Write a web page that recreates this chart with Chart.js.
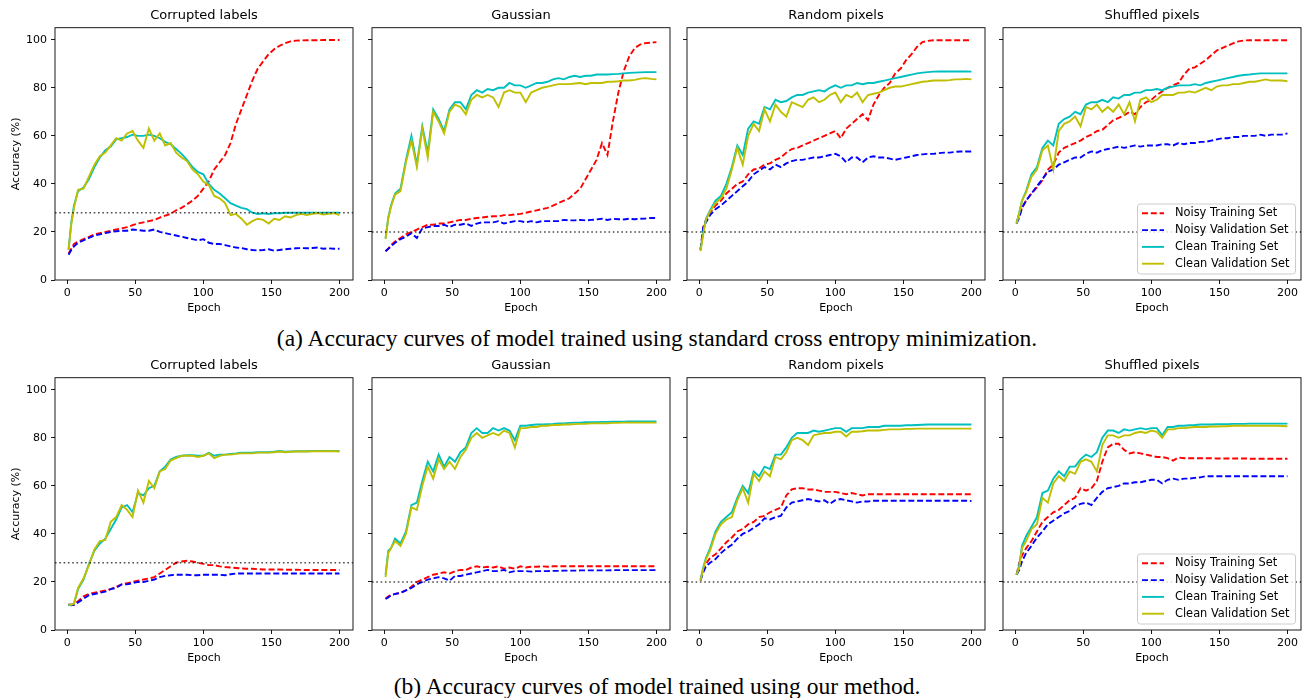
<!DOCTYPE html>
<html>
<head>
<meta charset="utf-8">
<script src="https://cdn.jsdelivr.net/npm/chart.js@4.4.1/dist/chart.umd.min.js"></script>
<style>
  html, body { margin: 0; padding: 0; background: #fff; overflow: hidden; }
  #page { position: relative; width: 1302px; height: 698px; overflow: hidden; background: #fff; }
  #page canvas { position: absolute; }
  .cap { position: absolute; left: 6px; width: 1302px; text-align: center; font-family: 'Liberation Serif', 'DejaVu Serif', serif; font-size: 23.5px; line-height: 28px; color: #000; white-space: nowrap; }
</style>
</head>
<body>
<div id="page">
  <div class="cap" style="top:324px">(a) Accuracy curves of model trained using standard cross entropy minimization.</div>
  <div class="cap" style="top:672px">(b) Accuracy curves of model trained using our method.</div>
</div>
<script>
const epochs = [1, 3, 5, 8, 12, 16, 20, 24, 28, 32, 36, 40, 44, 48, 52, 56, 60, 64, 68, 72, 76, 80, 84, 88, 92, 96,
  100, 104, 108, 112, 116, 120, 124, 128, 132, 136, 140, 144, 148, 152, 156, 160, 164, 168, 172, 176, 180, 184, 188, 192, 196, 200];
const xTicks = [0, 50, 100, 150, 200];
const yTicks = [0, 20, 40, 60, 80, 100];
const xMin = -8.95, xMax = 209.95, yMin = 0, yMax = 105;
const panelTitles = ['Corrupted labels', 'Gaussian', 'Random pixels', 'Shuffled pixels'];
const chanceLevels = [28, 20, 20, 20];
const seriesNames = ['Noisy Training Set', 'Noisy Validation Set', 'Clean Training Set', 'Clean Validation Set'];

// (a) standard cross entropy
const ceCorruptNoisyTrain = [11, 13, 15, 16, 17, 18, 19, 19.5, 20, 20.5, 21, 21.5, 22, 22.8, 23.5, 24, 24.5, 25, 26, 26.8,
  27.5, 29, 30, 31.5, 33, 35, 38, 41, 46, 49, 52, 57, 65, 71, 77, 83, 88, 91, 94, 96, 97.5, 98.5, 99.3, 99.6,
  99.7, 99.8, 99.8, 99.8, 99.9, 99.9, 99.9, 99.9];
const ceCorruptNoisyVal = [10.5, 12.5, 14, 15.5, 16.5, 17.5, 18.5, 19, 19.5, 20, 20.3, 20.5, 20.5, 21, 20.8, 20.5, 20.5, 21, 20, 19.5,
  19, 18.5, 18, 17.5, 17, 16.5, 17, 15.5, 15, 15, 14.5, 14, 13.5, 13.3, 12.8, 12.5, 12.3, 12.5, 12.8, 12.2, 12.5, 12.8, 13, 13.2,
  13.3, 13.2, 13.3, 13.5, 13, 13.2, 13, 13];
const ceCorruptCleanTrain = [12.5, 24, 31, 37, 38.5, 42, 47, 51, 54, 55.5, 58.5, 59, 59.5, 60.5, 60, 60, 60.5, 60, 59, 57.5,
  56.5, 54.5, 52.5, 50, 47, 45, 44, 40, 37.5, 36, 34, 32, 31, 30, 29.5, 28, 27.5, 27.8, 27.5, 27.8, 27.8, 28, 28, 28,
  28, 28, 28, 28, 28, 28, 28, 28];
const ceCorruptCleanVal = [12.5, 23, 30, 37.5, 38, 43, 48, 51.5, 53, 56, 59, 58, 61, 62, 58, 55, 63, 58, 61, 56,
  57, 53, 51, 49.5, 46, 44, 41, 39.5, 35, 34, 32, 27, 27.5, 25.5, 23, 24.5, 25.5, 25, 23.5, 25.5, 25, 26.5, 26, 27,
  27.5, 27, 27.5, 27.8, 27.2, 27.5, 27.8, 27];

const ceGaussNoisyTrain = [12, 13, 14.5, 16, 17.5, 19, 20, 21, 22, 23, 23, 23.5, 23.5, 24, 24.5, 25, 25, 25.5, 25.8, 26,
  26.3, 26.5, 26.5, 27, 27, 27.3, 27.5, 28, 28.5, 29, 29.5, 30, 31, 32, 33, 34, 36, 38, 42, 46, 50, 57, 52, 66,
  78, 87, 93, 96.5, 98, 98.6, 98.8, 99];
const ceGaussNoisyVal = [12, 13, 14, 15.5, 17, 18, 19.5, 17.5, 21.5, 22, 22.5, 22.5, 23, 22, 23, 23, 23.5, 22.5, 23.5, 24,
  24, 24, 24.5, 23.5, 24, 24.5, 24.5, 24, 24.5, 24, 24.5, 24.5, 24.5, 24.5, 25, 24.8, 24.8, 25, 24.8, 25, 25.2, 25.5, 25, 25.5,
  25.3, 25.2, 25.5, 25.3, 25.5, 25.6, 25.8, 25.8];
const ceGaussCleanTrain = [17.3, 26, 31, 36, 38, 50, 60, 48, 64, 53, 71, 67, 62, 71, 74, 74, 71, 77, 79, 78,
  79.5, 79, 80, 80, 82, 81, 81, 80, 81, 82, 82, 82.5, 83.5, 84, 83.5, 84.5, 85, 84.5, 85, 85, 85.5, 85.5, 85.5, 85.7,
  85.8, 86, 86.2, 86.3, 86.4, 86.5, 86.5, 86.5];
const ceGaussCleanVal = [17, 25.5, 30.5, 35.5, 37, 49, 58, 47, 63, 51, 70, 66, 61, 70, 73, 72, 69, 75, 77, 76,
  77, 76, 72, 78, 79, 78, 78, 74, 78, 79, 80, 80.5, 81, 81.5, 81.5, 81.5, 81.8, 82, 81.5, 82, 82, 82, 82.5, 82.5,
  82.7, 83, 83, 83.3, 83.8, 84, 83.7, 83.5];

const ceRandNoisyTrain = [13, 22, 25, 28, 31, 33, 36, 38, 40, 41, 44, 46, 46.5, 48, 48.5, 50, 51, 53, 54.5, 55,
  56, 57, 58, 59, 60, 61, 62, 59, 63, 65, 67, 69, 66.5, 73, 77, 80, 82, 86, 88, 91.5, 94, 97, 99, 99.5,
  99.8, 99.8, 99.8, 99.8, 99.8, 99.8, 99.8, 99.8];
const ceRandNoisyVal = [12.5, 22, 24, 27, 29.5, 31, 33, 35, 37, 39, 41, 44, 45.5, 47, 46, 48, 47, 48.5, 49.5, 50,
  50, 50.5, 51, 51, 51.5, 52, 52.5, 51.5, 49, 51, 51, 49, 51, 51.5, 51, 51, 50.5, 50, 50.5, 51, 51.5, 52, 52.3, 52.5,
  52.5, 52.8, 53, 53, 53.3, 53.5, 53.5, 53.5];
const ceRandCleanTrain = [12.5, 20, 25.5, 29, 33, 35, 40, 47, 56, 52, 63, 66, 65, 72, 71, 75, 74, 74.5, 76, 77,
  77, 78, 78.5, 79, 78.5, 80, 81, 80, 81, 81, 82, 81.5, 82, 82, 82.5, 83, 83.5, 84, 84.5, 85, 85.5, 86, 86.3, 86.5,
  86.7, 86.8, 86.8, 86.8, 86.8, 86.8, 86.8, 86.7];
const ceRandCleanVal = [12, 19, 25, 28.5, 32, 34, 38, 46, 55, 48, 60, 65, 62, 71, 66, 73, 70, 68, 74, 73,
  72, 75, 76, 74, 75, 77, 78, 74, 77, 76, 78, 74, 77, 77.5, 78, 79, 80, 80.5, 80.5, 81, 81.5, 82, 82.5, 82.7,
  83, 83, 83, 83.2, 83.5, 83.5, 83.7, 83.5];

const ceShufNoisyTrain = [24, 27, 30, 33, 36, 38.5, 41.5, 46, 48, 53, 55, 56, 57, 58, 59.5, 60.5, 62, 62.5, 64.5, 66.5,
  67.5, 68.5, 70, 69, 72, 74, 75, 77, 78.5, 80, 81, 82, 85.5, 88, 88.5, 90, 91.5, 93.5, 95.5, 96.5, 97.5, 98.5, 99.3, 99.7,
  99.8, 99.8, 99.8, 99.8, 99.8, 99.8, 99.8, 99.8];
const ceShufNoisyVal = [23.5, 26, 30, 33, 36, 39, 42, 45, 46, 48, 49, 50, 51, 51, 52.5, 53.5, 53, 54, 54.5, 55,
  55.5, 55, 55.5, 56, 55.5, 56, 56, 56, 56.5, 56.5, 56, 57, 56.5, 57, 57, 57.5, 57.5, 58, 58.5, 59, 59, 59.5, 59.5, 60,
  60, 60, 60.5, 60, 60.5, 60.5, 60.5, 61];
const ceShufCleanTrain = [23.5, 28, 33, 37, 44, 47, 55, 58, 56, 65, 67, 68, 70, 69, 73, 74, 74, 75, 74, 76,
  75.5, 77, 77, 78, 78, 79, 79, 79.5, 79, 80, 80.5, 81, 81, 81, 81.5, 81, 82, 82.5, 83, 83.5, 84, 84.5, 85, 85.3,
  85.5, 85.8, 86, 86, 86, 86, 86, 86];
const ceShufCleanVal = [23.5, 28, 33, 36.5, 43, 46, 54, 56, 46, 62, 65, 66, 68, 64, 72, 71, 73, 70, 72, 70,
  73, 69, 74, 66, 75, 76, 74, 75, 77, 77, 77, 78, 78, 78.5, 78, 79, 80, 79, 80.5, 81, 81, 81.5, 81.5, 82,
  82.5, 82.5, 83, 83.5, 83, 83, 83, 82.7];

// (b) our method
const ourCorruptNoisyTrain = [10.5, 10.5, 10.5, 12, 14, 15, 15.5, 16, 16.5, 17, 18, 19, 19.5, 20, 20.5, 21, 21.5, 22, 23.5, 25,
  26.5, 28, 28.5, 28.8, 28.5, 28, 27.5, 27, 27, 26.5, 26.2, 26, 25.8, 25.6, 25.5, 25.5, 25.3, 25.2, 25.2, 25.2, 25.2, 25.1, 25.1, 25.1,
  25, 25, 25, 25, 25, 25, 25, 25];
const ourCorruptNoisyVal = [10.5, 10.3, 10.5, 11.5, 13, 14.5, 15, 15.5, 16, 17, 17.5, 19, 19, 19.5, 20, 20, 20.5, 21, 22, 22.5,
  22.8, 23, 23, 23, 22.8, 22.8, 23, 23, 23, 23, 22.8, 23.2, 23.5, 23.5, 23.5, 23.5, 23.5, 23.5, 23.5, 23.5, 23.5, 23.5, 23.5, 23.5,
  23.5, 23.5, 23.5, 23.5, 23.5, 23.5, 23.5, 23.5];
const ourCorruptCleanTrain = [10.5, 10.5, 11, 17, 21, 27.5, 33, 36, 38, 42, 46, 51, 52, 49, 57, 56, 59, 60, 66, 68,
  71, 72, 72.5, 72.7, 72.7, 72.5, 72.5, 73.7, 72.5, 73, 73, 73.3, 73.5, 73.8, 73.8, 73.8, 74, 74, 74, 74.2, 74.5, 74.2, 74.3, 74.4,
  74.4, 74.4, 74.5, 74.5, 74.5, 74.5, 74.5, 74.5];
const ourCorruptCleanVal = [10.5, 10.5, 11, 17.5, 21.5, 27, 33.5, 37, 37.5, 45, 47, 52, 50, 47, 58, 53, 62, 59, 66, 67,
  70.5, 71.5, 72.5, 72.5, 72.5, 72, 72.5, 73.5, 71.5, 72.5, 73, 73, 73.3, 73.5, 73.5, 73.5, 73.8, 73.8, 73.8, 74, 74.3, 74, 74.2, 74.3,
  74.3, 74.3, 74.4, 74.4, 74.4, 74.4, 74.4, 74.3];

const ourGaussNoisyTrain = [13, 14, 14.5, 15, 15.5, 16.5, 18, 20, 21, 22, 23, 23.5, 24, 23.5, 24.5, 25, 25, 26, 26.5, 26,
  26.3, 26, 26.5, 25.5, 26, 25.5, 26.5, 26, 26.3, 26.3, 26.5, 26.3, 26.5, 26.5, 26.5, 26.5, 26.5, 26.5, 26.5, 26.5, 26.5, 26.5, 26.5, 26.5,
  26.5, 26.5, 26.5, 26.5, 26.5, 26.5, 26.5, 26.5];
const ourGaussNoisyVal = [13, 13.5, 14.5, 15, 15.5, 16.5, 17.5, 19, 20, 21, 21.5, 22, 21.5, 20.5, 22.5, 22.5, 23, 23.5, 24, 24.5,
  25, 24.5, 24.5, 25, 24, 24.5, 24.5, 24.5, 24.3, 24.5, 24.5, 24.5, 24.6, 24.6, 24.7, 24.7, 24.7, 24.8, 24.8, 24.8, 24.8, 24.8, 24.8, 24.9,
  24.9, 24.9, 24.9, 24.9, 24.9, 24.9, 24.9, 24.9];
const ourGaussCleanTrain = [23, 33, 34, 38, 36, 41, 52, 53, 62, 70, 66, 73, 68, 72, 70, 74, 76, 82, 84, 82,
  82, 84, 83, 84, 83, 79, 85, 85, 85.3, 85.5, 85.5, 85.7, 85.8, 86, 86, 86.2, 86.3, 86.3, 86.5, 86.5, 86.5, 86.6, 86.6, 86.7,
  86.7, 86.7, 86.8, 86.8, 86.8, 86.8, 86.8, 86.8];
const ourGaussCleanVal = [22, 32, 34, 37, 35, 40, 51, 50, 60, 68, 63, 71, 67, 70, 67, 72, 75, 80, 82, 80,
  81, 82, 81, 83, 82, 76, 84, 84, 84.5, 84.5, 85, 85, 85.3, 85.3, 85.5, 85.5, 85.7, 85.8, 85.8, 86, 86, 86, 86, 86.2,
  86.2, 86.3, 86.3, 86.3, 86.3, 86.3, 86.3, 86.3];

const ourRandNoisyTrain = [21, 25, 27.5, 30, 31.5, 34, 36.5, 38.5, 41, 42, 44, 45, 47, 47.5, 49, 50, 51, 56, 58.5, 59,
  59, 58.5, 58.5, 58, 57.5, 57.5, 57.5, 57, 56.5, 57, 56.5, 56, 56.5, 56.5, 56.5, 56.5, 56.5, 56.5, 56.5, 56.5, 56.5, 56.5, 56.5, 56.5,
  56.5, 56.5, 56.5, 56.5, 56.5, 56.5, 56.5, 56.5];
const ourRandNoisyVal = [20.5, 24, 26.5, 28, 29.5, 32, 34, 35.5, 38, 40, 41, 42.5, 44, 46.5, 46, 47, 47.5, 51, 53, 53.5,
  54, 54.5, 54, 53.5, 54, 52.5, 54, 54.5, 54, 53.5, 53, 53.5, 53.5, 53.8, 53.8, 53.8, 53.8, 53.8, 53.8, 53.8, 53.8, 53.8, 53.8, 53.8,
  53.8, 53.8, 53.8, 53.8, 53.8, 53.8, 53.8, 53.7];
const ourRandCleanTrain = [21, 26, 30, 34, 41, 45, 47, 49, 55, 60, 57, 66, 64, 68, 67, 73, 73, 76, 80, 82,
  82, 82, 83, 82.5, 83, 83.5, 84, 84, 82.5, 84, 84, 84, 84.5, 84.5, 84.5, 85, 85, 85, 85, 85.2, 85.2, 85.3, 85.4, 85.5,
  85.5, 85.5, 85.5, 85.5, 85.5, 85.5, 85.5, 85.5];
const ourRandCleanVal = [20.5, 25.5, 29.5, 33, 40, 44, 46, 47, 54, 59, 53, 65, 62, 66, 64, 72, 71, 74, 79, 80,
  79, 77, 81, 81.5, 82, 82, 82.5, 82.5, 80.5, 82.5, 82.5, 82.7, 83, 83, 83, 83.3, 83.5, 83.5, 83.5, 83.7, 83.7, 83.8, 83.8, 83.8,
  83.8, 83.8, 83.8, 83.8, 83.8, 83.8, 83.8, 83.8];

const ourShufNoisyTrain = [23, 28, 31, 34, 37, 41, 45, 47, 49, 50, 52, 54, 55, 59, 58, 59, 62, 70, 76, 77.5,
  77.5, 75, 73.5, 74, 73.5, 73, 72.5, 72, 72, 71.5, 70.5, 71.8, 71.5, 71.5, 71.5, 71.5, 71.5, 71.5, 71.4, 71.4, 71.4, 71.4, 71.4, 71.4,
  71.3, 71.3, 71.3, 71.3, 71.3, 71.3, 71.3, 71.3];
const ourShufNoisyVal = [23, 25, 28.5, 32, 35, 38.5, 41, 44, 45.5, 47, 48.5, 49.5, 51.5, 52.5, 53, 52, 55, 57.5, 59, 59.5,
  60, 61, 61, 61.5, 61.5, 62, 62.5, 62.5, 61, 62.5, 63, 62.5, 63, 63, 63.3, 63.5, 64, 64, 64, 64, 64, 64, 64, 64,
  64, 64, 64, 64, 64, 64, 64, 64];
const ourShufCleanTrain = [23, 27, 35, 39, 43, 47, 57, 58, 63, 66, 64, 68, 68, 71, 73, 72, 74, 80, 83, 83,
  82, 83.5, 83, 83.5, 84, 83.5, 84, 84, 81, 84.5, 84.5, 85, 85, 85.2, 85.3, 85.5, 85.5, 85.5, 85.6, 85.7, 85.7, 85.8, 85.8, 85.8,
  85.9, 85.9, 85.9, 85.9, 85.9, 85.9, 85.9, 85.9];
const ourShufCleanVal = [23, 26, 34, 37, 42, 44, 55, 53, 61, 64, 62, 66, 65, 70, 71, 70, 66, 77, 81, 81,
  80, 81, 81, 82, 82.5, 82, 83, 82.5, 80, 83.5, 83.5, 84, 84, 84.3, 84.5, 84.5, 84.5, 84.7, 84.7, 84.8, 84.8, 85, 85, 85,
  85, 85, 85, 85, 85, 85, 84.9, 84.8];

const panelSeries = [
  [
    [ceCorruptNoisyTrain, ceCorruptNoisyVal, ceCorruptCleanTrain, ceCorruptCleanVal],
    [ceGaussNoisyTrain, ceGaussNoisyVal, ceGaussCleanTrain, ceGaussCleanVal],
    [ceRandNoisyTrain, ceRandNoisyVal, ceRandCleanTrain, ceRandCleanVal],
    [ceShufNoisyTrain, ceShufNoisyVal, ceShufCleanTrain, ceShufCleanVal]
  ],
  [
    [ourCorruptNoisyTrain, ourCorruptNoisyVal, ourCorruptCleanTrain, ourCorruptCleanVal],
    [ourGaussNoisyTrain, ourGaussNoisyVal, ourGaussCleanTrain, ourGaussCleanVal],
    [ourRandNoisyTrain, ourRandNoisyVal, ourRandCleanTrain, ourRandCleanVal],
    [ourShufNoisyTrain, ourShufNoisyVal, ourShufCleanTrain, ourShufCleanVal]
  ]
];

// styles / layout
const seriesColors = ['#ff0000', '#0000ff', '#00bfbf', '#bfbf00'];
const seriesDashes = [[6, 2.8], [6, 2.8], [], []];
const lineWidth = 1.9;
const colLeft = [0, 317, 632, 948];
const rowTop = [0, 350];
const canvasW = 357, canvasH = 320;

Chart.defaults.font.family = "'DejaVu Sans', sans-serif";
Chart.defaults.color = '#000';

// axes box (matplotlib spines)
const framePlugin = {
  id: 'frame',
  afterDatasetsDraw(chart){
    const a = chart.chartArea;
    const ctx = chart.ctx;
    ctx.save();
    ctx.strokeStyle = '#000';
    ctx.lineWidth = 0.9;
    ctx.strokeRect(a.left, a.top, a.right - a.left, a.bottom - a.top);
    ctx.restore();
  }
};

// legend boxed in the lower right corner of the plot
const boxLegend = {
  id: 'boxLegend',
  afterDraw(chart, args, opts){
    if(!opts.show){
      return;
    }
    const a = chart.chartArea;
    const ctx = chart.ctx;
    const w = 158, h = 70, r = 3;
    const x = a.right - 5.5 - w;
    const y = a.bottom - 6 - h;
    ctx.save();
    ctx.beginPath();
    ctx.moveTo(x + r, y);
    ctx.arcTo(x + w, y, x + w, y + h, r);
    ctx.arcTo(x + w, y + h, x, y + h, r);
    ctx.arcTo(x, y + h, x, y, r);
    ctx.arcTo(x, y, x + w, y, r);
    ctx.closePath();
    ctx.fillStyle = 'rgba(255,255,255,0.8)';
    ctx.fill();
    ctx.strokeStyle = '#cccccc';
    ctx.lineWidth = 1;
    ctx.stroke();
    ctx.font = "11.4px 'DejaVu Sans', sans-serif";
    ctx.textBaseline = 'middle';
    ctx.textAlign = 'left';
    let row = 0;
    chart.data.datasets.forEach(ds => {
      if(!ds.label){
        return;
      }
      const cy = y + 9.3 + 16.8 * row;
      ctx.beginPath();
      ctx.setLineDash(ds.borderDash);
      ctx.strokeStyle = ds.borderColor;
      ctx.lineWidth = ds.borderWidth;
      ctx.moveTo(x + 4.5, cy);
      ctx.lineTo(x + 26.5, cy);
      ctx.stroke();
      ctx.setLineDash([]);
      ctx.fillStyle = '#000';
      ctx.fillText(ds.label, x + 37.5, cy);
      row++;
    });
    ctx.restore();
  }
};

function makePanel(row, col){
  const page = document.getElementById('page');
  const cv = document.createElement('canvas');
  cv.width = canvasW;
  cv.height = canvasH;
  cv.style.left = colLeft[col] + 'px';
  cv.style.top = rowTop[row] + 'px';
  cv.style.width = canvasW + 'px';
  cv.style.height = canvasH + 'px';
  page.appendChild(cv);

  const datasets = panelSeries[row][col].map((vals, i) => ({
    label: seriesNames[i],
    data: epochs.map((e, k) => ({x: e, y: vals[k]})),
    borderColor: seriesColors[i],
    borderDash: seriesDashes[i],
    borderWidth: lineWidth,
    pointRadius: 0,
    tension: 0,
    fill: false,
    order: 4 - i
  }));
  // chance level, dotted across the whole axes
  datasets.push({
    label: '',
    data: [{x: xMin, y: chanceLevels[col]}, {x: xMax, y: chanceLevels[col]}],
    borderColor: 'rgba(0,0,0,0.7)',
    borderDash: [1.6, 2.7],
    borderWidth: 1.6,
    pointRadius: 0,
    fill: false,
    order: 0
  });

  const tickGrid = {display: true, drawOnChartArea: false, drawTicks: true, tickLength: 4, color: '#000', lineWidth: 0.9};

  new Chart(cv, {
    type: 'line',
    data: {datasets: datasets},
    options: {
      responsive: false,
      animation: false,
      events: [],
      layout: {padding: {left: 0, right: 4, top: 0, bottom: 0}},
      scales: {
        x: {
          type: 'linear',
          min: xMin,
          max: xMax,
          afterBuildTicks: s => { s.ticks = xTicks.map(v => ({value: v})); },
          afterFit: s => { s.height = 40; },
          grid: tickGrid,
          border: {display: false},
          ticks: {color: '#000', font: {size: 11}, padding: 2.7, maxRotation: 0, autoSkip: false},
          title: {display: true, text: 'Epoch', color: '#000', font: {size: 11}, padding: {top: 0, bottom: 5.1}}
        },
        y: {
          type: 'linear',
          min: yMin,
          max: yMax,
          afterBuildTicks: s => { s.ticks = yTicks.map(v => ({value: v})); },
          afterFit: s => { s.width = 55; },
          grid: tickGrid,
          border: {display: false},
          ticks: {display: col === 0, color: '#000', font: {size: 11}, padding: 4},
          title: {display: col === 0, text: 'Accuracy (%)', color: '#000', font: {size: 11}, padding: {top: 9.1, bottom: 0}}
        }
      },
      plugins: {
        legend: {display: false},
        tooltip: {enabled: false},
        title: {
          display: true,
          fullSize: false,
          text: panelTitles[col],
          color: '#000',
          font: {size: 13, weight: 'normal'},
          padding: {top: 8.2, bottom: 3.9}
        },
        boxLegend: {show: col === 3}
      }
    },
    plugins: [framePlugin, boxLegend]
  });
}

for(let r = 0; r < 2; r++){
  for(let c = 0; c < 4; c++){
    makePanel(r, c);
  }
}
</script>
</body>
</html>
